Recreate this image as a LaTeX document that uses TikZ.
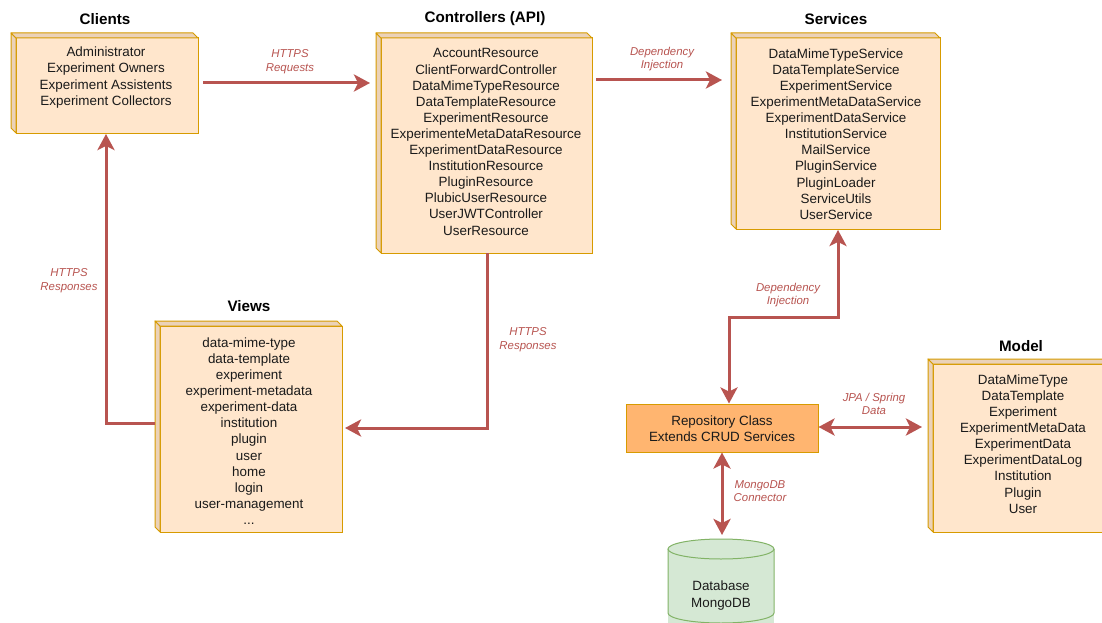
\documentclass[tikz,border=0pt]{standalone}
\usepackage{fontspec}
\setmainfont{Liberation Sans}
\usetikzlibrary{arrows.meta,calc}
\definecolor{boxfill}{HTML}{FFE6CC}
\definecolor{boxdraw}{HTML}{D79B00}
\definecolor{boxside}{HTML}{EBD2B8}
\definecolor{arr}{HTML}{B85450}
\definecolor{repofill}{HTML}{FFB570}
\definecolor{dbfill}{HTML}{D5E8D4}
\definecolor{dbdraw}{HTML}{82B366}
\definecolor{txt}{HTML}{1A1A1A}
\newcommand\mycube[5]{%
  \node[cubefront, minimum width={#4-#2-5}, minimum height={#5-#3-5}] (#1) at ({(#2+5+#4)/2},{(#3+5+#5)/2}) {};
  \draw[cubeside] (#1.north west) -- ++(-5,-5) -- ($(#1.south west)+(-5,-5)$) -- (#1.south west) -- cycle;
  \draw[cubeside] (#1.north west) -- ++(-5,-5) -- ($(#1.north east)+(-5,-5)$) -- (#1.north east) -- cycle;
}
\begin{document}
\begin{tikzpicture}[x=1pt,y=-1pt,
  cubefront/.style={draw=boxdraw, fill=boxfill, line width=1pt, inner sep=0pt, outer sep=0pt},
  cubeside/.style={draw=boxdraw, fill=boxside, line width=1pt, line join=round},
  body/.style={font=\fontsize{13.4}{16.1}\selectfont, text=txt, align=center, inner sep=0pt},
  title/.style={font=\fontsize{15.2}{18}\selectfont\bfseries, text=black, inner sep=0pt},
  lbl/.style={font=\fontsize{11.4}{13.7}\selectfont\itshape, text=arr, align=center, inner sep=0pt},
  tip/.tip={Stealth[length=16pt,width=17pt,inset=4pt]},
  conn/.style={draw=arr, line width=3pt, -tip},
  biconn/.style={draw=arr, line width=3pt, tip-tip},
]
\useasboundingbox (0,0) rectangle (1102,623);
\fill[white] (0,0) rectangle (1102,623);
\clip (0,0) rectangle (1102,623);

% cubes
\mycube{cl}{11}{33}{198}{133}
\mycube{ct}{376}{33}{592}{253}
\mycube{sv}{731}{33}{940}{229}
\mycube{vw}{155}{321}{342}{532}
\mycube{md}{928}{359}{1113}{532}

% titles
\node[title] (tcl) at (105,19) {Clients};
\node[title] (tct) at (485,19) {Controllers (API)};
\node[title] (tsv) at (836,19) {Services};
\node[title] (tvw) at (249,306) {Views};
\node[title] (tmd) at (1021,346) {Model};

% box texts
\node[body] (cltx) at (106,77.5) {Administrator\\Experiment Owners\\Experiment Assistents\\Experiment Collectors};
\node[body] (cttx) at (486,142) {AccountResource\\ClientForwardController\\DataMimeTypeResource\\DataTemplateResource\\ExperimentResource\\ExperimenteMetaDataResource\\ExperimentDataResource\\InstitutionResource\\PluginResource\\PlubicUserResource\\UserJWTController\\UserResource};
\node[body] (svtx) at (836,134) {DataMimeTypeService\\DataTemplateService\\ExperimentService\\ExperimentMetaDataService\\ExperimentDataService\\InstitutionService\\MailService\\PluginService\\PluginLoader\\ServiceUtils\\UserService};
\node[body] (vwtx) at (249,431) {data-mime-type\\data-template\\experiment\\experiment-metadata\\experiment-data\\institution\\plugin\\user\\home\\login\\user-management\\...};
\node[body] (mdtx) at (1023,444) {DataMimeType\\DataTemplate\\Experiment\\ExperimentMetaData\\ExperimentData\\ExperimentDataLog\\Institution\\Plugin\\User};

% repository
\node[body, draw=boxdraw, fill=repofill, line width=1pt, minimum width=192, minimum height=48] (repo) at (722,428) {};
\node[body] (repotx) at (722,429) {Repository Class\\Extends CRUD Services};

% database cylinder
\fill[dbfill] (668,549) rectangle (774,640);
\draw[draw=dbdraw, line width=1pt] (668,549) -- (668,613) arc[start angle=180, end angle=0, x radius=53, y radius=10] -- (774,549);
\draw[draw=dbdraw, fill=dbfill, line width=1pt] (721,549) ellipse [x radius=53, y radius=10];
\coordinate (dbtop) at (721,539);
\node[body] (db) at (721,595.5) {Database\\MongoDB};

% connectors
\draw[conn, shorten <=5pt, shorten >=11pt] (cl.east |- 0,83) -- (ct.west |- 0,83);
\draw[conn, shorten <=4pt, shorten >=14pt] (ct.east |- 0,80) -- (sv.west |- 0,80);
\draw[conn, shorten >=3pt] (ct.south -| 487,0) -- (487,428) -- (vw.east |- 0,428);
\draw[conn, shorten <=5pt, shorten >=1pt] (vw.west |- 0,423) -- (106,423) -- (cl.south -| 106,0);
\draw[biconn, shorten >=1pt] (repo.north -| 729,0) -- (729,317) -- (838,317) -- (sv.south -| 838,0);
\draw[biconn, shorten >=11pt] (repo.east |- 0,427) -- (md.west |- 0,427);
\draw[biconn, shorten >=4pt] (repo.south -| 722,0) -- (dbtop -| 722,0);

% connector labels
\node[lbl] (l1) at (290,62) {HTTPS\\Requests};
\node[lbl] (l2) at (662,59) {Dependency\\Injection};
\node[lbl] (l3) at (528,340) {HTTPS\\Responses};
\node[lbl] (l4) at (69,281) {HTTPS\\Responses};
\node[lbl] (l5) at (788,295) {Dependency\\Injection};
\node[lbl] (l6) at (874,404) {JPA / Spring\\Data};
\node[lbl] (l7) at (760,491) {MongoDB\\Connector};
\end{tikzpicture}
\end{document}
